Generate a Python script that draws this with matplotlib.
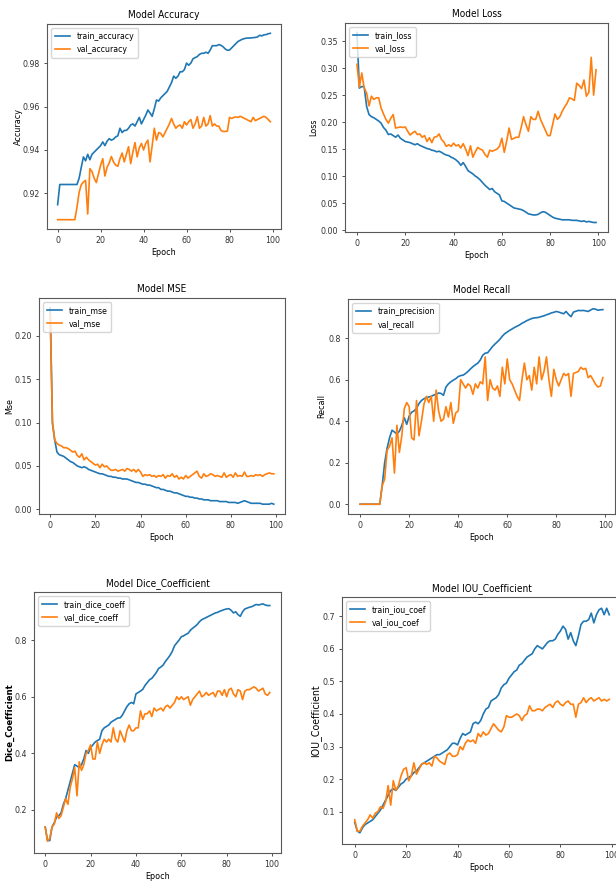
import numpy as np
import matplotlib
matplotlib.use("Agg")
import matplotlib.pyplot as plt
from matplotlib import font_manager as fm
from matplotlib.ticker import MultipleLocator

# the source plots are squeezed sideways: use a condensed face if there is one
_fonts = {(f.name, f.stretch) for f in fm.fontManager.ttflist}
if ('DejaVu Sans', 'condensed') in _fonts:
    plt.rcParams['font.family'] = ['DejaVu Sans']
    plt.rcParams['font.stretch'] = 'condensed'
else:
    plt.rcParams['font.family'] = ['Liberation Sans', 'DejaVu Sans']

epochs = np.arange(100)

# ---- accuracy ----
train_accuracy = [
    0.9148, 0.9241, 0.9241, 0.9241, 0.9241, 0.9241, 0.9241, 0.9241, 0.9241, 0.9241,
    0.927, 0.932, 0.9368, 0.935, 0.938, 0.9355, 0.938, 0.939, 0.940, 0.941,
    0.942, 0.9437, 0.942, 0.944, 0.9452, 0.9445, 0.945, 0.946, 0.9465, 0.950,
    0.948, 0.949, 0.949, 0.950, 0.9515, 0.952, 0.951, 0.953, 0.955, 0.952,
    0.954, 0.956, 0.9584, 0.957, 0.9555, 0.959, 0.963, 0.9625, 0.964, 0.965,
    0.966, 0.967, 0.969, 0.971, 0.974, 0.973, 0.974, 0.976, 0.976, 0.977,
    0.980, 0.979, 0.980, 0.982, 0.9825, 0.983, 0.984, 0.9845, 0.9845, 0.985,
    0.9845, 0.986, 0.988, 0.988, 0.988, 0.9885, 0.9882, 0.9875, 0.9865, 0.9859,
    0.986, 0.987, 0.988, 0.989, 0.990, 0.9905, 0.991, 0.9913, 0.9915, 0.9915,
    0.9916, 0.9917, 0.9918, 0.992, 0.9928, 0.9925, 0.993, 0.9931, 0.9935, 0.9937]
val_accuracy = [
    0.9079, 0.9079, 0.9079, 0.9079, 0.9079, 0.9079, 0.9079, 0.9079, 0.9079, 0.9136,
    0.9205, 0.924, 0.9252, 0.926, 0.9105, 0.9314, 0.930, 0.927, 0.925, 0.929,
    0.933, 0.936, 0.928, 0.932, 0.934, 0.937, 0.9345, 0.933, 0.9325, 0.936,
    0.9386, 0.9345, 0.938, 0.9415, 0.9337, 0.939, 0.9434, 0.9368, 0.941, 0.943,
    0.940, 0.943, 0.9445, 0.9345, 0.942, 0.950, 0.9445, 0.948, 0.9476, 0.946,
    0.948, 0.950, 0.952, 0.9545, 0.952, 0.950, 0.951, 0.9515, 0.950, 0.953,
    0.9515, 0.953, 0.954, 0.950, 0.952, 0.9553, 0.950, 0.951, 0.955, 0.951,
    0.952, 0.9558, 0.951, 0.952, 0.951, 0.951, 0.949, 0.9485, 0.9485, 0.9487,
    0.955, 0.9545, 0.955, 0.9552, 0.955, 0.9555, 0.955, 0.9545, 0.954, 0.9535,
    0.953, 0.955, 0.9535, 0.954, 0.9545, 0.955, 0.9555, 0.955, 0.954, 0.953]

# ---- loss ----
train_loss = [
    0.366, 0.263, 0.266, 0.265, 0.229, 0.214, 0.210, 0.208, 0.205, 0.202,
    0.198, 0.190, 0.185, 0.177, 0.178, 0.175, 0.172, 0.176, 0.170, 0.167,
    0.164, 0.163, 0.162, 0.160, 0.158, 0.160, 0.157, 0.155, 0.153, 0.151,
    0.150, 0.148, 0.147, 0.145, 0.146, 0.144, 0.141, 0.139, 0.138, 0.135,
    0.133, 0.130, 0.126, 0.120, 0.125, 0.118, 0.110, 0.107, 0.104, 0.100,
    0.097, 0.093, 0.088, 0.083, 0.079, 0.075, 0.077, 0.071, 0.068, 0.065,
    0.054, 0.053, 0.050, 0.047, 0.044, 0.041, 0.040, 0.039, 0.038, 0.036,
    0.033, 0.030, 0.029, 0.028, 0.028, 0.029, 0.032, 0.034, 0.033, 0.030,
    0.027, 0.024, 0.022, 0.021, 0.020, 0.019, 0.019, 0.019, 0.019, 0.018,
    0.018, 0.018, 0.017, 0.016, 0.017, 0.015, 0.016, 0.015, 0.014, 0.014]
val_loss = [
    0.307, 0.265, 0.291, 0.263, 0.254, 0.230, 0.248, 0.242, 0.245, 0.245,
    0.226, 0.215, 0.205, 0.198, 0.207, 0.214, 0.189, 0.190, 0.191, 0.190,
    0.191, 0.183, 0.176, 0.180, 0.183, 0.177, 0.178, 0.172, 0.175, 0.164,
    0.171, 0.162, 0.172, 0.173, 0.178, 0.168, 0.163, 0.155, 0.158, 0.155,
    0.161, 0.156, 0.158, 0.152, 0.160, 0.150, 0.138, 0.156, 0.135, 0.145,
    0.153, 0.150, 0.148, 0.140, 0.135, 0.148, 0.146, 0.148, 0.150, 0.155,
    0.170, 0.144, 0.165, 0.189, 0.168, 0.170, 0.172, 0.172, 0.190, 0.210,
    0.195, 0.183, 0.210, 0.205, 0.205, 0.220, 0.205, 0.195, 0.185, 0.175,
    0.175, 0.195, 0.215, 0.205, 0.210, 0.220, 0.228, 0.235, 0.245, 0.243,
    0.240, 0.272, 0.268, 0.262, 0.278, 0.248, 0.255, 0.320, 0.250, 0.297]

# ---- mse ----
train_mse = [
    0.232, 0.099, 0.080, 0.066, 0.063, 0.062, 0.061, 0.059, 0.057, 0.055,
    0.054, 0.052, 0.050, 0.049, 0.048, 0.049, 0.048, 0.046, 0.045, 0.044,
    0.043, 0.042, 0.041, 0.041, 0.040, 0.039, 0.038, 0.038, 0.037, 0.037,
    0.036, 0.036, 0.035, 0.035, 0.035, 0.034, 0.033, 0.032, 0.031, 0.031,
    0.030, 0.029, 0.029, 0.028, 0.028, 0.027, 0.026, 0.025, 0.025, 0.023,
    0.023, 0.022, 0.021, 0.021, 0.020, 0.019, 0.019, 0.018, 0.017, 0.016,
    0.015, 0.015, 0.014, 0.014, 0.013, 0.013, 0.012, 0.012, 0.011, 0.011,
    0.011, 0.010, 0.010, 0.010, 0.010, 0.009, 0.009, 0.009, 0.009, 0.008,
    0.008, 0.008, 0.008, 0.007, 0.008, 0.009, 0.010, 0.009, 0.008, 0.007,
    0.007, 0.007, 0.007, 0.007, 0.006, 0.006, 0.006, 0.006, 0.007, 0.006]
val_mse = [
    0.225, 0.101, 0.080, 0.076, 0.074, 0.073, 0.071, 0.071, 0.070, 0.068,
    0.066, 0.067, 0.062, 0.060, 0.064, 0.057, 0.060, 0.057, 0.055, 0.053,
    0.051, 0.052, 0.048, 0.052, 0.049, 0.050, 0.047, 0.045, 0.045, 0.046,
    0.044, 0.045, 0.046, 0.044, 0.047, 0.046, 0.044, 0.046, 0.043, 0.046,
    0.043, 0.038, 0.040, 0.039, 0.040, 0.038, 0.039, 0.037, 0.039, 0.038,
    0.040, 0.036, 0.039, 0.038, 0.041, 0.037, 0.039, 0.035, 0.037, 0.035,
    0.039, 0.036, 0.038, 0.040, 0.042, 0.044, 0.038, 0.036, 0.041, 0.038,
    0.039, 0.041, 0.040, 0.038, 0.039, 0.038, 0.037, 0.042, 0.037, 0.039,
    0.040, 0.037, 0.042, 0.038, 0.039, 0.038, 0.043, 0.038, 0.038, 0.039,
    0.038, 0.040, 0.039, 0.040, 0.038, 0.040, 0.041, 0.042, 0.041, 0.041]

# ---- recall ----
train_precision = [
    0.0, 0.0, 0.0, 0.0, 0.0, 0.0, 0.0, 0.0, 0.0, 0.09,
    0.20, 0.27, 0.32, 0.357, 0.348, 0.338, 0.352, 0.38, 0.417, 0.385,
    0.425, 0.443, 0.450, 0.462, 0.485, 0.500, 0.508, 0.514, 0.517, 0.520,
    0.526, 0.530, 0.536, 0.534, 0.525, 0.565, 0.580, 0.590, 0.598, 0.605,
    0.615, 0.620, 0.622, 0.630, 0.640, 0.652, 0.663, 0.672, 0.680, 0.695,
    0.718, 0.728, 0.730, 0.745, 0.760, 0.772, 0.783, 0.795, 0.810, 0.822,
    0.830, 0.838, 0.845, 0.852, 0.858, 0.864, 0.872, 0.878, 0.885, 0.890,
    0.895, 0.898, 0.899, 0.901, 0.905, 0.908, 0.913, 0.917, 0.922, 0.925,
    0.929, 0.926, 0.922, 0.918, 0.929, 0.915, 0.904, 0.926, 0.930, 0.934,
    0.933, 0.934, 0.932, 0.929, 0.936, 0.942, 0.940, 0.935, 0.937, 0.938]
val_recall = [
    0.0, 0.0, 0.0, 0.0, 0.0, 0.0, 0.0, 0.0, 0.0, 0.09,
    0.12, 0.26, 0.28, 0.32, 0.15, 0.38, 0.25, 0.33, 0.46, 0.49,
    0.47, 0.32, 0.31, 0.50, 0.33, 0.40, 0.48, 0.52, 0.49, 0.52,
    0.40, 0.55, 0.45, 0.40, 0.41, 0.47, 0.42, 0.49, 0.39, 0.44,
    0.45, 0.60, 0.58, 0.56, 0.58, 0.57, 0.53, 0.58, 0.56, 0.59,
    0.58, 0.71, 0.50, 0.60, 0.56, 0.55, 0.57, 0.52, 0.66, 0.58,
    0.70, 0.60, 0.58, 0.55, 0.52, 0.50, 0.60, 0.68, 0.60, 0.62,
    0.55, 0.66, 0.58, 0.71, 0.60, 0.64, 0.71, 0.60, 0.52, 0.65,
    0.60, 0.57, 0.60, 0.63, 0.62, 0.63, 0.52, 0.63, 0.635, 0.64,
    0.66, 0.65, 0.655, 0.61, 0.62, 0.60, 0.578, 0.565, 0.57, 0.61]

# ---- dice coefficient ----
train_dice_coeff = [
    0.14, 0.092, 0.092, 0.14, 0.155, 0.175, 0.18, 0.19, 0.22, 0.24,
    0.27, 0.30, 0.33, 0.36, 0.355, 0.35, 0.36, 0.38, 0.41, 0.40,
    0.42, 0.43, 0.44, 0.445, 0.45, 0.48, 0.49, 0.495, 0.50, 0.51,
    0.515, 0.52, 0.525, 0.525, 0.535, 0.55, 0.565, 0.575, 0.58, 0.575,
    0.61, 0.615, 0.62, 0.626, 0.64, 0.65, 0.66, 0.665, 0.675, 0.686,
    0.70, 0.705, 0.712, 0.725, 0.735, 0.746, 0.76, 0.78, 0.79, 0.80,
    0.812, 0.815, 0.82, 0.824, 0.835, 0.842, 0.848, 0.855, 0.865, 0.872,
    0.876, 0.880, 0.884, 0.888, 0.892, 0.896, 0.898, 0.902, 0.905, 0.908,
    0.910, 0.911, 0.905, 0.896, 0.900, 0.890, 0.884, 0.900, 0.910, 0.913,
    0.916, 0.918, 0.922, 0.926, 0.924, 0.926, 0.928, 0.924, 0.922, 0.922]
val_dice_coeff = [
    0.14, 0.09, 0.10, 0.14, 0.15, 0.19, 0.17, 0.18, 0.21, 0.24,
    0.22, 0.28, 0.31, 0.35, 0.25, 0.37, 0.34, 0.36, 0.40, 0.41,
    0.43, 0.38, 0.38, 0.44, 0.40, 0.43, 0.45, 0.44, 0.45, 0.44,
    0.49, 0.45, 0.44, 0.48, 0.46, 0.44, 0.48, 0.50, 0.48, 0.48,
    0.49, 0.49, 0.55, 0.52, 0.54, 0.54, 0.55, 0.53, 0.56, 0.55,
    0.555, 0.56, 0.55, 0.565, 0.57, 0.56, 0.57, 0.58, 0.60, 0.59,
    0.60, 0.59, 0.595, 0.60, 0.57, 0.59, 0.60, 0.61, 0.62, 0.60,
    0.605, 0.615, 0.605, 0.61, 0.615, 0.60, 0.62, 0.62, 0.605, 0.625,
    0.60, 0.625, 0.63, 0.61, 0.60, 0.625, 0.62, 0.59, 0.62, 0.625,
    0.625, 0.63, 0.635, 0.63, 0.62, 0.625, 0.63, 0.61, 0.605, 0.615]

# ---- iou coefficient ----
train_iou_coef = [
    0.067, 0.04, 0.035, 0.05, 0.06, 0.065, 0.07, 0.075, 0.085, 0.095,
    0.105, 0.12, 0.135, 0.15, 0.165, 0.17, 0.165, 0.175, 0.185, 0.19,
    0.20, 0.205, 0.21, 0.22, 0.225, 0.235, 0.245, 0.25, 0.255, 0.26,
    0.265, 0.27, 0.275, 0.275, 0.28, 0.285, 0.29, 0.30, 0.31, 0.31,
    0.305, 0.325, 0.34, 0.335, 0.34, 0.345, 0.37, 0.375, 0.37, 0.38,
    0.40, 0.415, 0.42, 0.44, 0.445, 0.45, 0.46, 0.48, 0.49, 0.495,
    0.51, 0.52, 0.53, 0.535, 0.55, 0.555, 0.565, 0.575, 0.58, 0.585,
    0.60, 0.61, 0.605, 0.60, 0.61, 0.62, 0.625, 0.625, 0.63, 0.645,
    0.655, 0.67, 0.66, 0.63, 0.65, 0.625, 0.61, 0.64, 0.675, 0.685,
    0.685, 0.69, 0.71, 0.68, 0.705, 0.72, 0.725, 0.705, 0.725, 0.705]
val_iou_coef = [
    0.075, 0.04, 0.04, 0.055, 0.065, 0.075, 0.09, 0.08, 0.095, 0.10,
    0.115, 0.11, 0.13, 0.18, 0.12, 0.195, 0.165, 0.18, 0.21, 0.23,
    0.235, 0.195, 0.21, 0.25, 0.215, 0.23, 0.245, 0.25, 0.245, 0.25,
    0.24, 0.27, 0.265, 0.255, 0.25, 0.245, 0.275, 0.28, 0.27, 0.27,
    0.275, 0.30, 0.29, 0.31, 0.32, 0.315, 0.32, 0.31, 0.34, 0.33,
    0.345, 0.335, 0.34, 0.355, 0.37, 0.36, 0.35, 0.345, 0.36, 0.395,
    0.39, 0.39, 0.395, 0.40, 0.395, 0.38, 0.395, 0.40, 0.425, 0.41,
    0.41, 0.415, 0.415, 0.41, 0.42, 0.425, 0.43, 0.42, 0.435, 0.44,
    0.43, 0.425, 0.435, 0.44, 0.43, 0.43, 0.39, 0.43, 0.435, 0.45,
    0.435, 0.445, 0.45, 0.44, 0.445, 0.45, 0.44, 0.445, 0.44, 0.445]

W, H = 616, 888
fig = plt.figure(figsize=(W / 100, H / 100), dpi=100)
fig.patch.set_facecolor('white')


def add_panel(box, ylab_px, title, ylabel, train, val, names, ystep, ylabel_kw=None):
    # box in pixels: left, top, right, bottom; ylab_px = right edge of the y label
    l, t, r, b = box
    ax = fig.add_axes([l / W, 1 - b / H, (r - l) / W, (b - t) / H])
    ax.plot(epochs, train, label=names[0], lw=1.2, color='#1f77b4')
    ax.plot(epochs, val, label=names[1], lw=1.2, color='#ff7f0e')
    ax.set_title(title, fontsize=7.2, pad=4)
    ax.set_xlabel('Epoch', fontsize=6.4, labelpad=2)
    kw = dict(fontsize=6.4)
    if ylabel_kw:
        kw.update(ylabel_kw)
    ax.set_ylabel(ylabel, **kw)
    ax.yaxis.set_label_coords((ylab_px - l) / (r - l), 0.5)
    ax.xaxis.set_major_locator(MultipleLocator(20))
    ax.yaxis.set_major_locator(MultipleLocator(ystep))
    ax.tick_params(labelsize=6.3, length=2.5, pad=2.5, width=0.6, colors='0.2')
    for s in ax.spines.values():
        s.set_color('0.35')
        s.set_linewidth(0.8)
    ax.legend(loc='upper left', fontsize=6.2, handlelength=1.7,
              borderpad=0.45, labelspacing=0.45)
    return ax


add_panel((47, 24, 281, 229), 23, 'Model Accuracy', 'Accuracy',
          train_accuracy, val_accuracy, ['train_accuracy', 'val_accuracy'], 0.02)
add_panel((345, 23, 608, 232), 318, 'Model Loss', 'Loss',
          train_loss, val_loss, ['train_loss', 'val_loss'], 0.05)
add_panel((39, 298, 285, 514), 14, 'Model MSE', 'Mse',
          train_mse, val_mse, ['train_mse', 'val_mse'], 0.05)
add_panel((348, 299, 615, 514), 326, 'Model Recall', 'Recall',
          train_precision, val_recall, ['train_precision', 'val_recall'], 0.2)
add_panel((34, 592, 281, 853), 14, 'Model Dice_Coefficient', 'Dice_Coefficient',
          train_dice_coeff, val_dice_coeff, ['train_dice_coeff', 'val_dice_coeff'], 0.2,
          ylabel_kw=dict(family='DejaVu Sans', fontsize=6.8, fontweight='bold'))
add_panel((342, 597, 622, 844), 321, 'Model IOU_Coefficient', 'IOU_Coefficient',
          train_iou_coef, val_iou_coef, ['train_iou_coef', 'val_iou_coef'], 0.1,
          ylabel_kw=dict(family='DejaVu Sans', fontsize=7.6))

fig.savefig('out.png', dpi=100)
